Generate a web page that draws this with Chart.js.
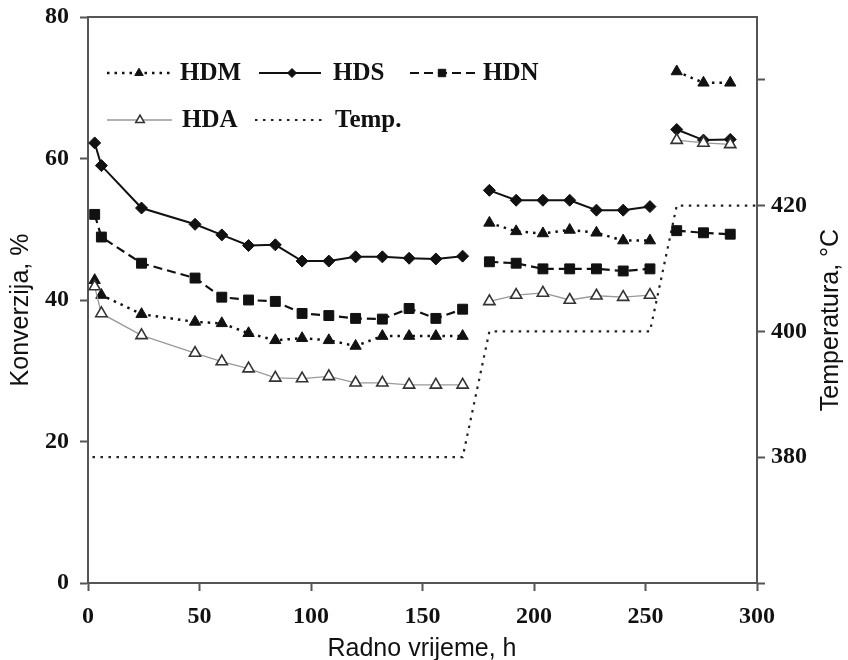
<!DOCTYPE html>
<html>
<head>
<meta charset="utf-8">
<script src="https://cdn.jsdelivr.net/npm/chart.js@4.4.0/dist/chart.umd.min.js"></script>
<style>
    html, body { margin: 0; padding: 0; background: #fff; }
    #wrap { width: 848px; height: 660px; }
</style>
</head>
<body>
<div id="wrap"><canvas id="conversionChart" width="848" height="660"></canvas></div>
<script>
// radno vrijeme, h
const hours = [3, 6, 24, 48, 60, 72, 84, 96, 108, 120, 132, 144, 156, 168,
               180, 192, 204, 216, 228, 240, 252, 264, 276, 288];
// kraj svakog temperaturnog perioda (linija se tu prekida)
const breakAfter = [168, 252];

// konverzija, %
const hdm = [42.8, 40.7, 38.0, 36.9, 36.7, 35.3, 34.3, 34.6, 34.3, 33.5, 34.9, 34.9, 34.9, 34.9,
             50.9, 49.7, 49.4, 49.9, 49.5, 48.4, 48.4, 72.3, 70.7, 70.7];
const hds = [62.2, 59.0, 53.0, 50.7, 49.2, 47.7, 47.8, 45.5, 45.5, 46.1, 46.1, 45.9, 45.8, 46.2,
             55.5, 54.1, 54.1, 54.1, 52.7, 52.7, 53.2, 64.1, 62.6, 62.7];
const hdn = [52.1, 48.9, 45.2, 43.1, 40.4, 40.0, 39.8, 38.1, 37.8, 37.4, 37.3, 38.8, 37.4, 38.7,
             45.4, 45.2, 44.4, 44.4, 44.4, 44.1, 44.4, 49.8, 49.5, 49.3];
const hda = [41.9, 38.1, 35.0, 32.5, 31.3, 30.3, 29.0, 28.9, 29.2, 28.3, 28.3, 28.0, 28.0, 28.0,
             39.8, 40.7, 41.0, 40.0, 40.6, 40.4, 40.7, 62.6, 62.2, 62.0];

// temperatura, °C
const tempHours = [2, 168, 180, 252, 264, 300];
const tempValues = [380, 380, 400, 400, 420, 420];

// oznake osi
const xTicks = [0, 50, 100, 150, 200, 250, 300];
const yTicks = [0, 20, 40, 60, 80];
const tempTicks = [360, 380, 400, 420, 440];
const tempTickLabels = ['', '380', '400', '420', ''];

const axisColor = '#555';
const tickFont = { family: 'Liberation Serif', size: 24, weight: 'bold' };

function series(values) {
    return hours.map((h, i) => ({ x: h, y: values[i] }));
}

const gapSegment = {
    borderColor: seg => breakAfter.includes(seg.p0.parsed.x) ? 'rgba(0,0,0,0)' : undefined
};

const datasets = [
    {
        label: 'HDA', data: series(hda), yAxisID: 'y',
        borderColor: '#999', borderWidth: 1.3,
        pointStyle: 'triangle', pointRadius: 6.5, pointBorderWidth: 1.6,
        pointBackgroundColor: '#fff', pointBorderColor: '#333',
        segment: gapSegment
    },
    {
        label: 'HDM', data: series(hdm), yAxisID: 'y',
        borderColor: '#111', borderWidth: 2.5, borderDash: [2.5, 5],
        pointStyle: 'triangle', pointRadius: 6.5, pointBorderWidth: 1,
        pointBackgroundColor: '#111', pointBorderColor: '#111',
        segment: gapSegment
    },
    {
        label: 'HDN', data: series(hdn), yAxisID: 'y',
        borderColor: '#111', borderWidth: 2.2, borderDash: [9, 5],
        pointStyle: 'rect', pointRadius: 7, pointBorderWidth: 1,
        pointBackgroundColor: '#111', pointBorderColor: '#111',
        segment: gapSegment
    },
    {
        label: 'HDS', data: series(hds), yAxisID: 'y',
        borderColor: '#111', borderWidth: 2,
        pointStyle: 'rectRot', pointRadius: 6, pointBorderWidth: 1,
        pointBackgroundColor: '#111', pointBorderColor: '#111',
        segment: gapSegment
    },
    {
        label: 'Temp.', data: tempHours.map((h, i) => ({ x: h, y: tempValues[i] })), yAxisID: 'y2',
        borderColor: '#222', borderWidth: 2.2, borderDash: [2.5, 5.5],
        pointRadius: 0
    }
];

// legenda unutar grafa, naslovi osi i okvir
const decorations = {
    id: 'decorations',
    afterDraw(chart) {
        const c = chart.ctx;
        const a = chart.chartArea;
        c.save();

        c.strokeStyle = axisColor;
        c.lineWidth = 2;
        c.setLineDash([]);
        c.beginPath();
        c.moveTo(a.left, a.top);
        c.lineTo(a.right, a.top);
        c.stroke();

        c.fillStyle = '#111';
        c.font = '25px "Liberation Sans"';
        c.textAlign = 'center';
        c.textBaseline = 'middle';
        c.fillText('Radno vrijeme, h', 422, 649);

        c.save();
        c.translate(21, 310);
        c.rotate(-Math.PI / 2);
        c.fillText('Konverzija, %', 0, 0);
        c.restore();

        c.save();
        c.translate(831, 320);
        c.rotate(-Math.PI / 2);
        c.fillText('Temperatura, °C', 0, 0);
        c.restore();

        const byLabel = {};
        chart.data.datasets.forEach(ds => { byLabel[ds.label] = ds; });
        const items = [
            { label: 'HDM', x1: 107, x2: 170, mx: 139, tx: 180, y: 73 },
            { label: 'HDS', x1: 259, x2: 321, mx: 292, tx: 333, y: 73 },
            { label: 'HDN', x1: 410, x2: 477, mx: 442, tx: 483, y: 73 },
            { label: 'HDA', x1: 107, x2: 172, mx: 140, tx: 182, y: 120 },
            { label: 'Temp.', x1: 255, x2: 322, mx: null, tx: 335, y: 120 }
        ];
        items.forEach(it => {
            const ds = byLabel[it.label];
            c.strokeStyle = ds.borderColor;
            c.lineWidth = ds.borderWidth;
            c.setLineDash(ds.borderDash || []);
            c.beginPath();
            c.moveTo(it.x1, it.y);
            c.lineTo(it.x2, it.y);
            c.stroke();
            c.setLineDash([]);
            if (it.mx !== null) {
                c.fillStyle = ds.pointBackgroundColor;
                c.strokeStyle = ds.pointBorderColor;
                c.lineWidth = ds.pointBorderWidth;
                Chart.helpers.drawPoint(c, {
                    pointStyle: ds.pointStyle,
                    radius: ds.pointRadius * 0.75,
                    borderWidth: ds.pointBorderWidth,
                    rotation: 0
                }, it.mx, it.y);
            }
            c.fillStyle = '#111';
            c.font = 'bold 25px "Liberation Serif"';
            c.textAlign = 'left';
            c.textBaseline = 'middle';
            c.fillText(it.label, it.tx, it.y + 1);
        });

        c.restore();
    }
};

const axisGrid = {
    drawOnChartArea: false,
    drawTicks: true,
    tickLength: 8,
    tickColor: axisColor,
    tickWidth: 2
};

function fixWidth(w) {
    return axis => {
        axis.width = w;
        axis.paddingTop = 0;
        axis.paddingBottom = 0;
    };
}

new Chart(document.getElementById('conversionChart').getContext('2d'), {
    type: 'line',
    data: { datasets: datasets },
    options: {
        responsive: false,
        animation: false,
        layout: { padding: { top: 17, left: 0, right: 0, bottom: 0 } },
        plugins: {
            legend: { display: false },
            tooltip: { enabled: false }
        },
        scales: {
            x: {
                type: 'linear',
                min: 0, max: 300,
                afterBuildTicks: axis => { axis.ticks = xTicks.map(v => ({ value: v })); },
                afterFit: axis => {
                    axis.height = 77;
                    axis.paddingLeft = 0;
                    axis.paddingRight = 0;
                },
                ticks: { font: tickFont, color: '#111', padding: 11, maxRotation: 0 },
                grid: axisGrid,
                border: { display: true, color: axisColor, width: 2 }
            },
            y: {
                position: 'left',
                min: 0, max: 80,
                afterBuildTicks: axis => { axis.ticks = yTicks.map(v => ({ value: v })); },
                afterFit: fixWidth(88),
                ticks: { font: tickFont, color: '#111', padding: 11 },
                grid: axisGrid,
                border: { display: true, color: axisColor, width: 2 }
            },
            y2: {
                position: 'right',
                min: 360, max: 450,
                afterBuildTicks: axis => { axis.ticks = tempTicks.map(v => ({ value: v })); },
                afterFit: fixWidth(91),
                ticks: {
                    font: tickFont, color: '#111', padding: 6,
                    callback: (v) => tempTickLabels[tempTicks.indexOf(v)]
                },
                grid: axisGrid,
                border: { display: true, color: axisColor, width: 2 }
            }
        }
    },
    plugins: [decorations]
});
</script>
</body>
</html>
